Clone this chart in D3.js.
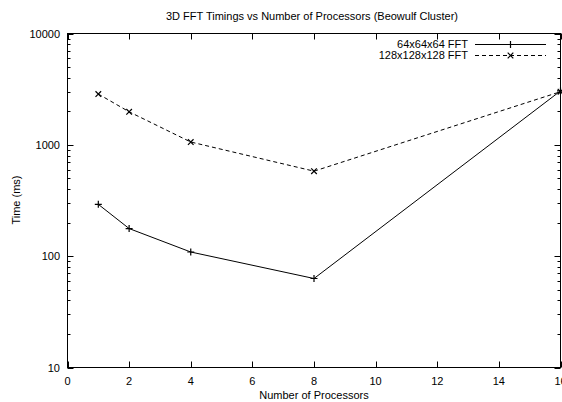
<!DOCTYPE html>
<html>
<head>
<meta charset="utf-8">
<script src="https://cdn.jsdelivr.net/npm/d3@7"></script>
<style>
  html, body { margin: 0; padding: 0; background: #fff; }
  svg { display: block; }
  text { font-family: "Liberation Sans", Arial, Helvetica, sans-serif; fill: #000; }
</style>
</head>
<body>
<svg id="chart" width="562" height="402"></svg>
<script>
// Processor counts and timings (ms) for each FFT size
const processors = [1, 2, 4, 8, 16];
const fft64 = [292, 177, 109, 63, 3050];
const fft128 = [2860, 1980, 1060, 580, 3000];
const seriesNames = ["64x64x64 FFT", "128x128x128 FFT"];
const xTicks = [0, 2, 4, 6, 8, 10, 12, 14, 16];
const yTicks = [10, 100, 1000, 10000];

const svg = d3.select("#chart");
const m = { left: 67.5, right: 560.5, top: 33.5, bottom: 367.5 };

const x = d3.scaleLinear().domain([0, 16]).range([m.left, m.right]);
const y = d3.scaleLog().domain([10, 10000]).range([m.bottom, m.top]);

// Title
svg.append("text").attr("x", 312).attr("y", 20).attr("text-anchor", "middle")
  .attr("font-size", 11).text("3D FFT Timings vs Number of Processors (Beowulf Cluster)");

// Axis titles
svg.append("text").attr("x", 314).attr("y", 399).attr("text-anchor", "middle")
  .attr("font-size", 11).text("Number of Processors");
svg.append("text").attr("transform", "translate(20,200) rotate(-90)")
  .attr("text-anchor", "middle").attr("font-size", 11).text("Time (ms)");

// Ticks drawn inward on all four sides
const g = svg.append("g").attr("stroke", "#000").attr("stroke-width", 1);
const major = 6, minor = 3;

xTicks.forEach(v => {
  const px = Math.round(x(v)) + 0.5;
  g.append("line").attr("x1", px).attr("x2", px).attr("y1", m.bottom).attr("y2", m.bottom - major);
  g.append("line").attr("x1", px).attr("x2", px).attr("y1", m.top).attr("y2", m.top + major);
});
svg.selectAll(".xl").data(xTicks).join("text")
  .attr("x", d => x(d)).attr("y", 385).attr("text-anchor", "middle")
  .attr("font-size", 11).text(d => d);

// Log axis: majors at each decade, minors at 2..9
const yMinor = [];
for (let dec = 10; dec < 10000; dec *= 10) for (let k = 2; k <= 9; k++) yMinor.push(dec * k);
yTicks.forEach(v => {
  const py = Math.round(y(v)) + 0.5;
  g.append("line").attr("x1", m.left).attr("x2", m.left + major).attr("y1", py).attr("y2", py);
  g.append("line").attr("x1", m.right).attr("x2", m.right - major).attr("y1", py).attr("y2", py);
});
yMinor.forEach(v => {
  const py = Math.round(y(v)) + 0.5;
  g.append("line").attr("x1", m.left).attr("x2", m.left + minor).attr("y1", py).attr("y2", py);
  g.append("line").attr("x1", m.right).attr("x2", m.right - minor).attr("y1", py).attr("y2", py);
});
svg.selectAll(".yl").data(yTicks).join("text")
  .attr("x", 60).attr("y", d => y(d) + 4).attr("text-anchor", "end")
  .attr("font-size", 11).text(d => d);

// Frame
svg.append("rect").attr("x", m.left).attr("y", m.top)
  .attr("width", m.right - m.left).attr("height", m.bottom - m.top)
  .attr("fill", "none").attr("stroke", "#000").attr("stroke-width", 1);

const line = d3.line().x(d => x(d[0])).y(d => y(d[1]));
const s64 = processors.map((p, i) => [p, fft64[i]]);
const s128 = processors.map((p, i) => [p, fft128[i]]);

function plus(sel, cx, cy, r) {
  sel.append("path").attr("d", `M${cx - r},${cy}H${cx + r}M${cx},${cy - r}V${cy + r}`)
    .attr("stroke", "#000").attr("stroke-width", 1.2).attr("fill", "none");
}
function cross(sel, cx, cy, r) {
  sel.append("path").attr("d", `M${cx - r},${cy - r}L${cx + r},${cy + r}M${cx - r},${cy + r}L${cx + r},${cy - r}`)
    .attr("stroke", "#000").attr("stroke-width", 1.2).attr("fill", "none");
}

svg.append("path").datum(s64).attr("d", line)
  .attr("fill", "none").attr("stroke", "#000").attr("stroke-width", 1);
s64.forEach(d => plus(svg, x(d[0]), y(d[1]), 3.5));

svg.append("path").datum(s128).attr("d", line)
  .attr("fill", "none").attr("stroke", "#000").attr("stroke-width", 1)
  .attr("stroke-dasharray", "4,3");
s128.forEach(d => cross(svg, x(d[0]), y(d[1]), 2.8));

// Legend
const legRows = [44, 55];
seriesNames.forEach((name, i) => {
  svg.append("text").attr("x", 468).attr("y", legRows[i] + 4).attr("text-anchor", "end")
    .attr("font-size", 11).text(name);
  const ln = svg.append("line").attr("x1", 475).attr("x2", 546)
    .attr("y1", legRows[i] + 0.5).attr("y2", legRows[i] + 0.5)
    .attr("stroke", "#000").attr("stroke-width", 1);
  if (i === 1) { ln.attr("stroke-dasharray", "4,3"); cross(svg, 510.5, legRows[i] + 0.5, 2.8); }
  else plus(svg, 510.5, legRows[i] + 0.5, 3.5);
});
</script>
</body>
</html>
